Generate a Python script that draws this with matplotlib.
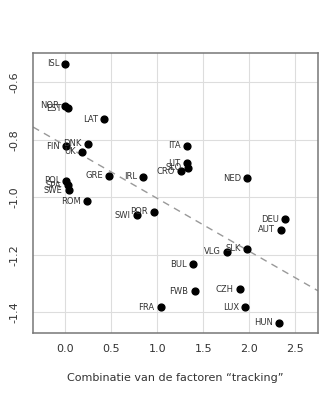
import matplotlib.pyplot as plt

# landen en hun posities
landen = ['ISL', 'NOR', 'EST', 'LAT', 'DNK', 'FIN', 'UK', 'GRE', 'IRL',
          'POL', 'SPA', 'SWE', 'ROM', 'SWI', 'POR', 'FRA', 'ITA', 'LIT',
          'SLO', 'CRO', 'NED', 'DEU', 'AUT', 'SLK', 'VLG', 'BUL', 'FWB',
          'CZH', 'LUX', 'HUN']
tracking = [0.0, 0.0, 0.03, 0.424, 0.243, 0.004, 0.178, 0.475, 0.848,
            0.011, 0.026, 0.04, 0.232, 0.776, 0.967, 1.037, 1.32, 1.32,
            1.33, 1.254, 1.975, 2.391, 2.348, 1.978, 1.754, 1.388, 1.406,
            1.899, 1.957, 2.319]
waarde = [-0.536, -0.681, -0.690, -0.729, -0.814, -0.822, -0.841, -0.925, -0.928,
          -0.943, -0.958, -0.976, -1.013, -1.062, -1.051, -1.383, -0.820, -0.882,
          -0.897, -0.909, -0.934, -1.077, -1.113, -1.179, -1.190, -1.232, -1.327,
          -1.319, -1.383, -1.436]

# regressielijn
intercept = -0.820
helling = -0.184

fig = plt.figure(figsize=(3.24, 4.0), dpi=100)
ax = fig.add_axes([0.102, 0.168, 0.879, 0.699])

ax.set_xlim(-0.35, 2.743)
ax.set_ylim(-1.471, -0.499)

ax.set_xticks([0.0, 0.5, 1.0, 1.5, 2.0, 2.5])
ax.set_yticks([-1.4, -1.2, -1.0, -0.8, -0.6])
ax.set_xticklabels(['0.0', '0.5', '1.0', '1.5', '2.0', '2.5'])
ax.set_yticklabels(['-1.4', '-1.2', '-1.0', '-0.8', '-0.6'], rotation=90, va='center')
ax.tick_params(length=0, labelsize=8, labelcolor='#333333', pad=8)
ax.tick_params(axis='y', pad=10)
ax.grid(True, color='#dddddd', linewidth=0.8)
ax.set_axisbelow(True)
for s in ax.spines.values():
    s.set_color('#777777')
    s.set_linewidth(1.1)

xs = [-0.35, 2.743]
ax.plot(xs, [intercept + helling * x for x in xs], color='#999999',
        linestyle=(0, (5, 4)), linewidth=1.0, zorder=2)

ax.scatter(tracking, waarde, s=24, color='black', zorder=3)
for naam, x, y in zip(landen, tracking, waarde):
    ax.annotate(naam, (x, y), xytext=(-4.5, 0), textcoords='offset points',
                ha='right', va='center', fontsize=6, color='#333333')

ax.set_xlabel('Combinatie van de factoren \u201ctracking\u201d', fontsize=8,
              color='#333333', labelpad=14)

fig.savefig('out.png', dpi=100)
